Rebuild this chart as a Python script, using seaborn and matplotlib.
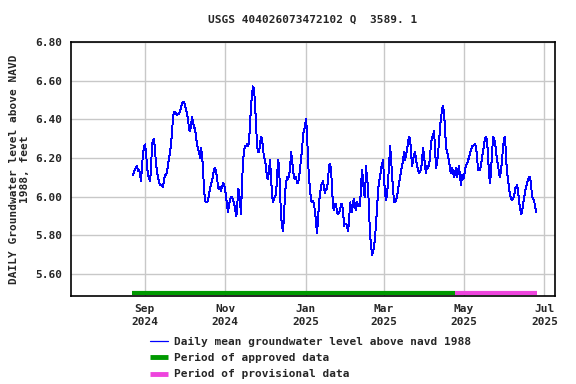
import pandas as pd
import seaborn as sns
import matplotlib.pyplot as plt
import matplotlib.dates as mdates
import matplotlib.transforms as mtransforms
import numpy as np
from matplotlib.lines import Line2D

# daily mean level (ft above NAVD 1988), Aug 2024 - Jun 2025
level = [
    6.11, 6.13, 6.14, 6.15, 6.16, 6.13, 6.14, 6.12, 6.08, 6.16, 6.22, 6.26, 6.27, 6.23, 6.16, 6.11,
    6.10, 6.08, 6.14, 6.27, 6.29, 6.30, 6.24, 6.17, 6.13, 6.10, 6.08, 6.06, 6.06, 6.06, 6.05, 6.09,
    6.11, 6.11, 6.13, 6.16, 6.20, 6.23, 6.27, 6.33, 6.41, 6.44, 6.44, 6.43, 6.42, 6.43, 6.43, 6.44,
    6.46, 6.48, 6.49, 6.49, 6.47, 6.45, 6.43, 6.40, 6.35, 6.34, 6.37, 6.41, 6.39, 6.36, 6.35, 6.31,
    6.27, 6.25,
    6.23, 6.20, 6.25, 6.22, 6.14, 6.04, 5.98, 5.97, 5.97, 5.98, 6.01, 6.04, 6.07, 6.08, 6.11, 6.14,
    6.15, 6.13, 6.10, 6.05, 6.04, 6.05, 6.03, 6.05, 6.07, 6.06, 6.04, 6.00, 5.96, 5.92, 5.96, 5.98,
    6.00, 6.00, 5.98, 5.97, 5.94, 5.90, 5.92, 6.04, 6.03, 5.97, 5.91, 6.07, 6.18, 6.24, 6.26, 6.26,
    6.27, 6.26, 6.28, 6.37, 6.47, 6.53, 6.57, 6.56, 6.48, 6.37, 6.27, 6.23, 6.23, 6.27, 6.31, 6.30,
    6.25, 6.20, 6.19, 6.15, 6.10, 6.09,
    6.14, 6.19, 6.10, 6.01, 5.97, 5.99, 6.00, 6.01, 6.10, 6.19, 6.16, 6.03, 5.90, 5.85, 5.82, 5.90,
    6.02, 6.07, 6.10, 6.09, 6.11, 6.14, 6.23, 6.19, 6.14, 6.10, 6.09, 6.10, 6.07, 6.07, 6.10, 6.14,
    6.20, 6.24, 6.32, 6.34, 6.37, 6.40, 6.33, 6.19, 6.09, 6.04, 5.98, 5.97, 5.98, 5.96, 5.92, 5.87,
    5.81, 5.88, 5.97, 6.01, 6.06, 6.07, 6.08, 6.04, 6.02, 6.04, 6.04, 6.09, 6.16, 6.17, 6.14, 6.04,
    5.95, 5.93, 5.96, 5.96, 5.92, 5.91,
    5.92, 5.93, 5.96, 5.96, 5.93, 5.85, 5.86, 5.86, 5.85, 5.82, 5.87, 5.97, 5.95, 5.92, 5.97, 5.99,
    5.95, 5.93, 5.97, 5.96, 5.95, 5.95, 6.06, 6.14, 6.09, 6.01, 6.00, 6.16, 6.09, 6.05, 5.93, 5.80,
    np.nan, 5.70, 5.71, 5.74, 5.79, 5.86, 5.94, 6.03, 6.08, 6.10, 6.14, 6.17, 6.19, 6.09, 6.02, 5.98,
    6.01, 6.08, 6.16, 6.26, 6.20, 6.11, 6.04, 5.97, 5.97, 5.98, 6.00, 6.04, 6.07, 6.10, 6.13, 6.16,
    6.19, 6.23, 6.19, 6.22, 6.24, 6.28,
    6.31, 6.30, 6.23, 6.16, 6.19, 6.22, 6.23, 6.19, 6.16, 6.14, 6.12, 6.13, 6.14, 6.19, 6.25, 6.21,
    6.16, 6.12, 6.16, 6.15, 6.16, 6.21, 6.28, 6.30, 6.32, 6.34, 6.24, 6.15, 6.17, 6.23, 6.28, 6.36,
    6.41, 6.45, 6.47, 6.43, 6.35, 6.25, 6.24, 6.20, 6.19, 6.14, 6.12, 6.15, 6.13, 6.10, 6.12, 6.15,
    6.10, 6.13, 6.16, 6.10, 6.06, 6.11, 6.09, 6.10, 6.14, 6.16, 6.17, 6.19, 6.20, 6.23, 6.24, 6.26,
    6.26, 6.27, 6.27, 6.26, 6.20, 6.14,
    6.14, 6.14, 6.16, 6.21, 6.23, 6.27, 6.30, 6.31, 6.29, 6.21, 6.11, 6.07, 6.14, 6.23, 6.31, 6.30,
    6.28, 6.23, 6.19, 6.16, 6.12, 6.10, 6.14, 6.19, 6.26, 6.30, 6.31, 6.20, 6.12, 6.09, 6.04, 6.01,
    5.99, 5.98, 5.99, 6.00, 6.04, 6.05, 6.06, 6.03, 5.97, 5.94, 5.91, 5.92, 5.96, 5.99, 6.03, 6.05,
    6.07, 6.09, 6.10, 6.10, 6.06, 6.00, 5.99, 5.98, 5.95, 5.92,
]
first_day = "2024-08-23"
last_day = "2025-06-24 16:00"

approved = ("2024-08-22", "2025-04-24")
provisional = ("2025-04-24", "2025-06-25")

y_ticks = [5.60, 5.80, 6.00, 6.20, 6.40, 6.60, 6.80]
x_ticks = ["2024-09-01", "2024-11-01", "2025-01-01", "2025-03-01", "2025-05-01", "2025-07-01"]

title = "USGS 404026073472102 Q  3589. 1"
ylabel = "DAILY Groundwater level above NAVD\n1988, feet"
legend_labels = ["Daily mean groundwater level above navd 1988",
                 "Period of approved data",
                 "Period of provisional data"]

df = pd.DataFrame({
    "date": pd.date_range(first_day, last_day, periods=len(level)),
    "level": level,
})

sns.set_style("white")
plt.rcParams["font.family"] = ["DejaVu Sans Mono"]
plt.rcParams["font.weight"] = "bold"

fig = plt.figure(figsize=(5.76, 3.84), dpi=100)
ax = fig.add_axes([0.1233, 0.2292, 0.8402, 0.6614])

sns.lineplot(data=df, x="date", y="level", ax=ax, color="#0000ff", lw=0.7,
             estimator=None, legend=False, antialiased=False)

# period bars along the bottom edge
trans = mtransforms.blended_transform_factory(ax.transData, ax.transAxes)
ax.plot(pd.to_datetime(list(approved)), [0.012, 0.012], transform=trans,
        color="#009900", lw=3, solid_capstyle="butt")
ax.plot(pd.to_datetime(list(provisional)), [0.012, 0.012], transform=trans,
        color="#ee44dd", lw=3, solid_capstyle="butt")

ax.set_xlim(pd.Timestamp("2024-07-07"), pd.Timestamp("2025-07-09"))
ax.set_ylim(5.486, 6.80)
ax.set_yticks(y_ticks)
ax.set_yticklabels([f"{v:.2f}" for v in y_ticks])
ax.set_xticks(pd.to_datetime(x_ticks))
ax.xaxis.set_major_formatter(mdates.DateFormatter("%b\n%Y"))
ax.tick_params(axis="both", length=0, labelsize=8, pad=6)
for lab in ax.get_xticklabels() + ax.get_yticklabels():
    lab.set_fontweight("bold")
    lab.set_linespacing(1.35)

ax.grid(True, color="#c8c8c8", lw=1)
for s in ax.spines.values():
    s.set_color("black")
    s.set_linewidth(1.2)

ax.set_xlabel("")
ax.set_ylabel(ylabel, fontsize=8, fontweight="bold", labelpad=4)
ax.set_title(title, fontsize=8, fontweight="bold", pad=14)

handles = [Line2D([], [], color="#0000ff", lw=0.9),
           Line2D([], [], color="#009900", lw=3.5, solid_capstyle="butt"),
           Line2D([], [], color="#ee44dd", lw=3.5, solid_capstyle="butt")]
fig.legend(handles, legend_labels, loc="upper left", bbox_to_anchor=(0.261, 0.122),
           frameon=False, handlelength=1.6, handletextpad=0.5,
           labelspacing=0.55, borderaxespad=0, borderpad=0,
           prop={"weight": "bold", "size": 8})

fig.savefig("out.png", dpi=100)
